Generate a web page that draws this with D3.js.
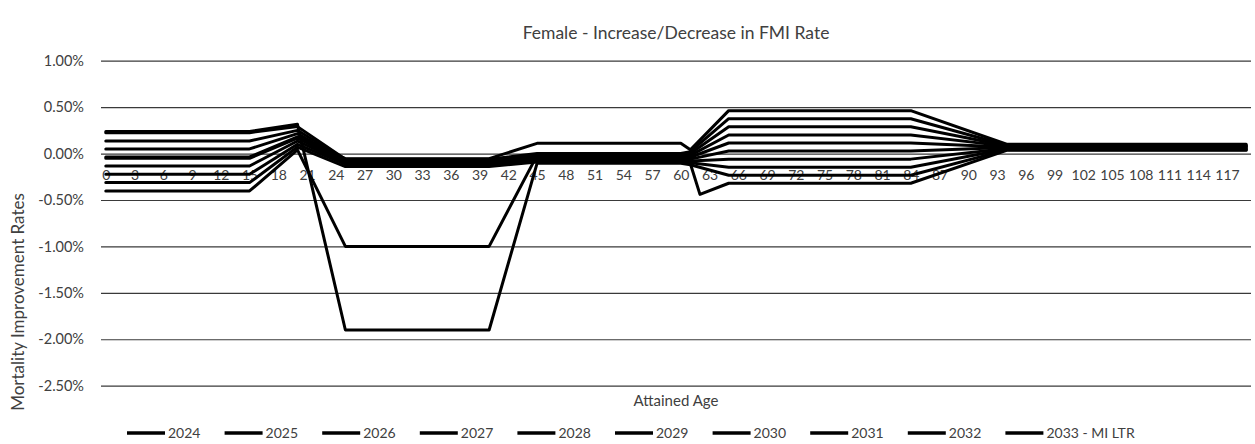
<!DOCTYPE html>
<html>
<head>
<meta charset="utf-8">
<script src="https://cdn.jsdelivr.net/npm/d3@7"></script>
<style>
  html, body { margin: 0; padding: 0; background: #fff; }
  svg { display: block; font-family: Lato, "Open Sans", sans-serif; }
</style>
</head>
<body>
<svg id="chart" width="1255" height="444"></svg>
<script>
// ---- data ----
const title = "Female - Increase/Decrease in FMI Rate";
const xTitle = "Attained Age";
const yTitle = "Mortality Improvement Rates";
const ageMin = 0, ageMax = 119;
const tickAges = [0,3,6,9,12,15,18,21,24,27,30,33,36,39,42,45,48,51,54,57,60,63,66,69,72,75,78,81,84,87,90,93,96,99,102,105,108,111,114,117];
const yTicks = [1.0, 0.5, 0.0, -0.5, -1.0, -1.5, -2.0, -2.5];
const seriesNames = ["2024","2025","2026","2027","2028","2029","2030","2031","2032","2033 - MI LTR"];
// ages at which the rates change (values in %, null = no change point for that series)
const knotAges = [0, 15, 20, 25, 40, 45, 60, 61, 62, 65, 84, 94, 119];
const s2024 = [0.237, 0.237, 0.315, -1.90, -1.90, -0.105, -0.105, -0.12, null, -0.233, -0.233, 0.040, 0.040];
const s2025 = [0.225, 0.225, 0.290, -0.060, -0.060, 0.000, 0.000, 0.02, null, 0.375, 0.375, 0.090, 0.090];
const s2026 = [0.136, 0.136, 0.250, -0.070, -0.070, -0.015, -0.015, 0.00, null, 0.288, 0.288, 0.085, 0.085];
const s2027 = [0.050, 0.050, 0.215, -0.080, -0.080, -0.030, -0.030, -0.02, null, 0.200, 0.200, 0.080, 0.080];
const s2028 = [-0.037, -0.037, 0.180, -0.055, -0.055, 0.110, 0.110, 0.04, null, 0.462, 0.462, 0.100, 0.100];
const s2029 = [-0.051, -0.051, 0.165, -0.090, -0.090, -0.045, -0.045, -0.04, null, 0.114, 0.114, 0.070, 0.070];
const s2030 = [-0.134, -0.134, 0.135, -0.100, -0.100, -0.060, -0.060, -0.06, null, 0.027, 0.027, 0.065, 0.065];
const s2031 = [-0.223, -0.223, 0.100, -0.115, -0.115, -0.075, -0.075, -0.08, null, -0.060, -0.060, 0.055, 0.055];
const s2032 = [-0.313, -0.313, 0.070, -0.140, -0.140, -0.090, -0.090, -0.10, null, -0.147, -0.147, 0.050, 0.050];
const s2033 = [-0.403, -0.403, 0.040, -1.00, -1.00, -0.020, -0.020, -0.11, -0.44, -0.320, -0.320, 0.035, 0.035];
const seriesValues = [s2024, s2025, s2026, s2027, s2028, s2029, s2030, s2031, s2032, s2033];

// ---- layout ----
const svg = d3.select("#chart");
const plot = { left: 101, right: 1251, top: 60.7, bottom: 385.7 };
const textColor = "#404040";

const x = d3.scaleLinear().domain([ageMin - 0.5, ageMax + 0.5]).range([plot.left, plot.right]);
const y = d3.scaleLinear().domain([-2.5, 1.0]).range([plot.bottom, plot.top]);

// title
svg.append("text")
  .attr("x", (plot.left + plot.right) / 2).attr("y", 39)
  .attr("text-anchor", "middle")
  .attr("font-size", 17.5).attr("fill", textColor)
  .text(title);

// gridlines + y labels
const yAxis = d3.axisLeft(y).tickValues(yTicks)
  .tickSize(-(plot.right - plot.left)).tickPadding(17)
  .tickFormat(d => d.toFixed(2) + "%");
const gy = svg.append("g").attr("transform", `translate(${plot.left},0)`).call(yAxis);
gy.select(".domain").remove();
gy.selectAll(".tick line").attr("stroke", "#3a3a3a").attr("stroke-width", 1.2);
gy.selectAll(".tick text").attr("font-size", 14.5).attr("fill", textColor)
  .attr("font-family", "Lato, sans-serif");

// x labels along zero line
const xAxis = d3.axisBottom(x).tickValues(tickAges).tickSize(0).tickPadding(17);
const gx = svg.append("g").attr("transform", `translate(0,${y(0)})`).call(xAxis);
gx.select(".domain").remove();
gx.selectAll(".tick text").attr("font-size", 14).attr("fill", textColor)
  .attr("font-family", "Lato, sans-serif");

// series lines
const line = d3.line().x(d => x(d.age)).y(d => y(d.v));
seriesValues.forEach((vals, i) => {
  const pts = knotAges.map((a, j) => ({ age: a, v: vals[j] })).filter(d => d.v !== null);
  svg.append("path")
    .datum(pts)
    .attr("fill", "none")
    .attr("stroke", "#000")
    .attr("stroke-width", 3)
    .attr("stroke-linejoin", "round")
    .attr("stroke-linecap", "round")
    .attr("d", line);
});

// axis titles
svg.append("text")
  .attr("x", (plot.left + plot.right) / 2).attr("y", 406)
  .attr("text-anchor", "middle").attr("font-size", 15).attr("fill", textColor)
  .text(xTitle);
svg.append("text")
  .attr("transform", `translate(24,302) rotate(-90)`)
  .attr("text-anchor", "middle").attr("font-size", 17).attr("fill", textColor)
  .text(yTitle);

// legend
const legendX0 = 127, legendStep = 97.6, legendY = 433;
const lg = svg.append("g");
seriesNames.forEach((name, i) => {
  const gx0 = legendX0 + i * legendStep;
  lg.append("line")
    .attr("x1", gx0).attr("x2", gx0 + 38)
    .attr("y1", legendY).attr("y2", legendY)
    .attr("stroke", "#000").attr("stroke-width", 3.5);
  lg.append("text")
    .attr("x", gx0 + 41).attr("y", legendY + 5)
    .attr("font-size", 14).attr("fill", textColor)
    .text(name);
});
</script>
</body>
</html>
